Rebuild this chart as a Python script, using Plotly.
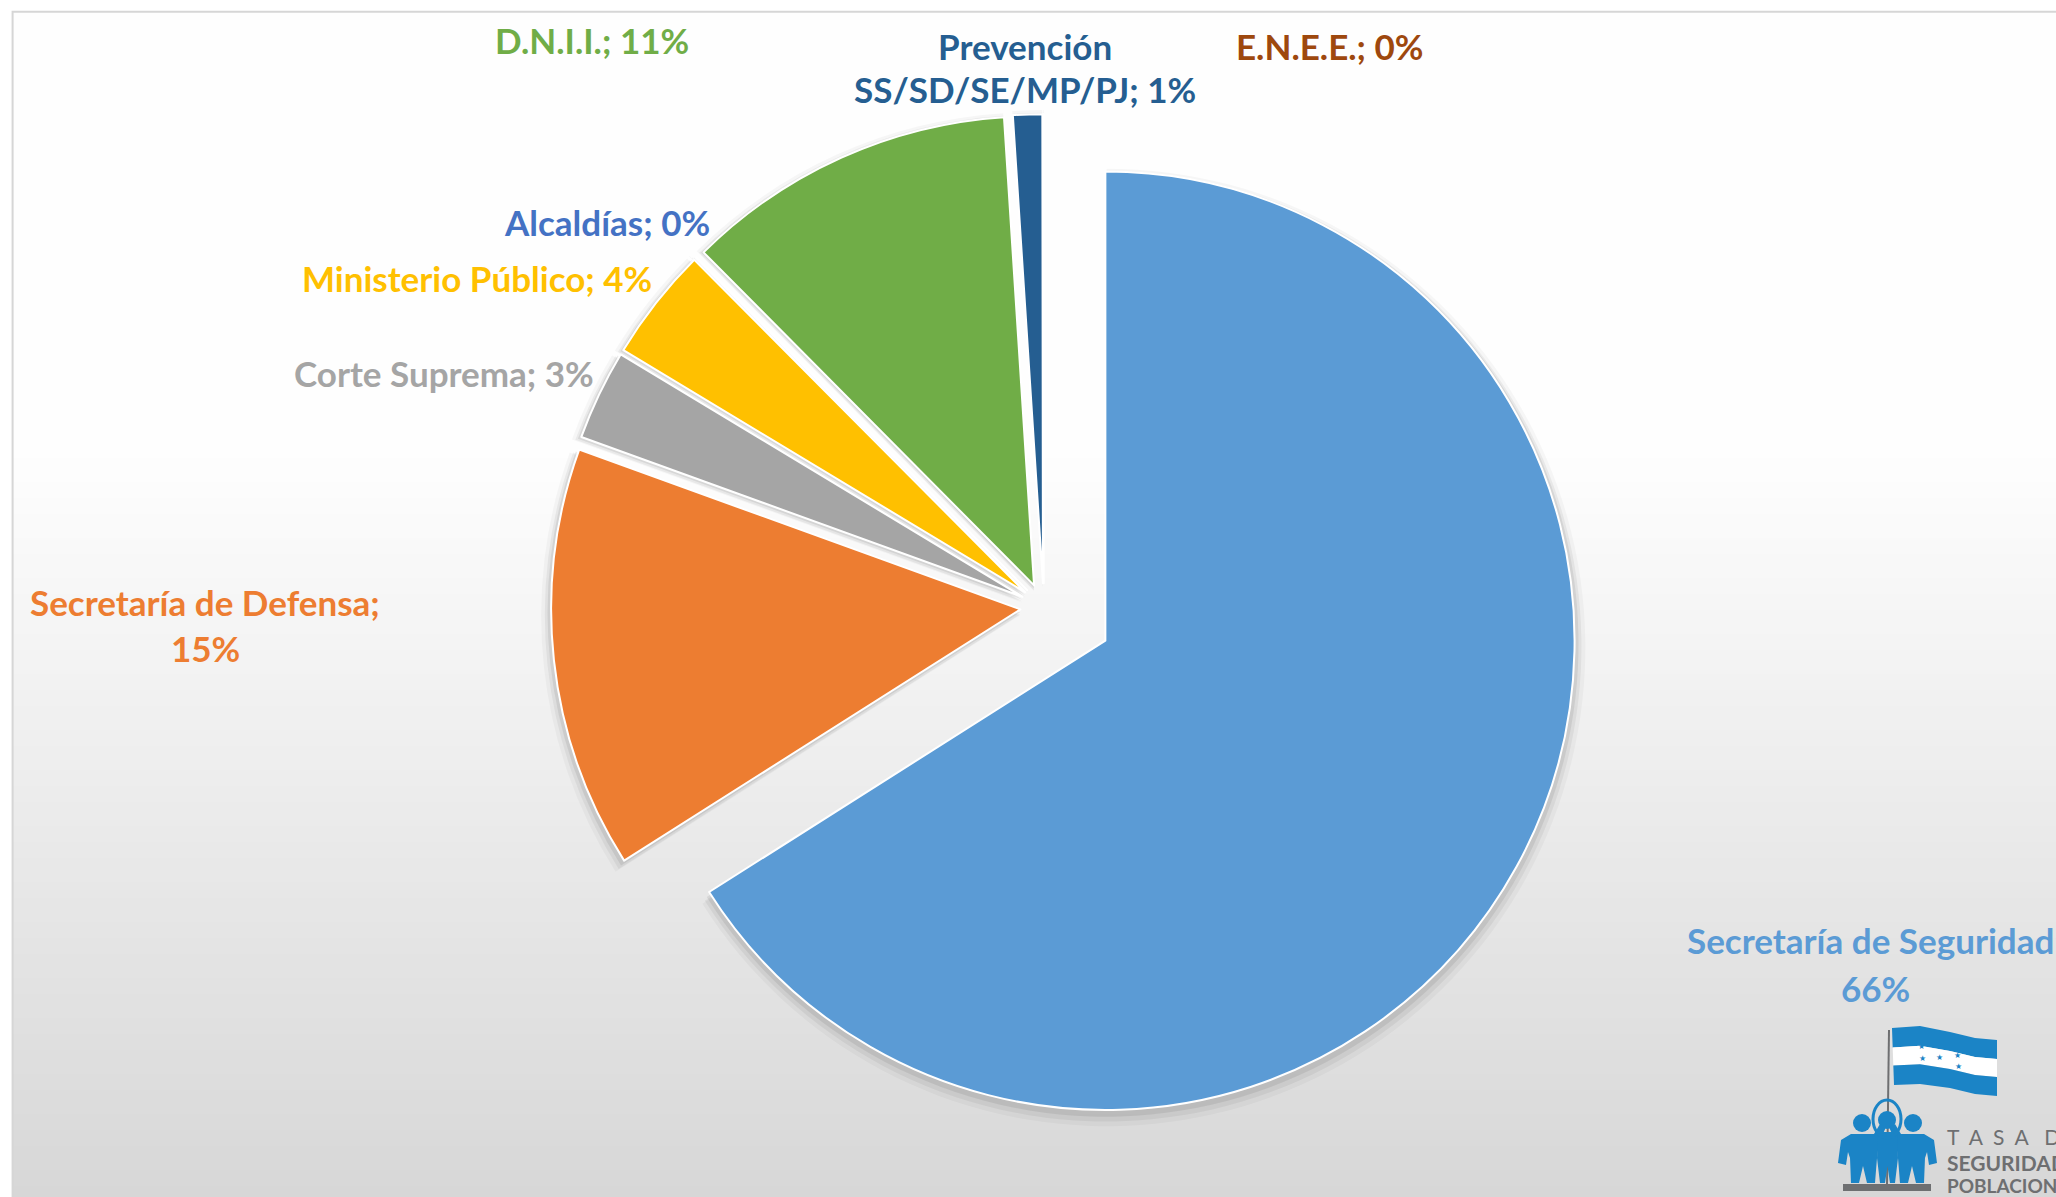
import plotly.graph_objects as go

W, H = 2056, 1197

# ---------------- data ----------------
labels = ["Secretaría de Seguridad", "Secretaría de Defensa", "Corte Suprema",
          "Ministerio Público", "Alcaldías", "D.N.I.I.",
          "Prevención SS/SD/SE/MP/PJ", "E.N.E.E."]
values = [65.9, 14.5, 3.1, 3.9, 0.02, 11.4, 1.0, 0.02]

# ---------------- style ----------------
colors = ["#5B9BD5", "#ED7D31", "#A5A5A5", "#FFC000",
          "#4472C4", "#70AD47", "#255E91", "#9E480E"]
pulls = [0.15, 0.05, 0.05, 0.05, 0.05, 0.05, 0.05, 0.05]
# label placement (pixel centre x, centre y of each line)
label_x = [1875, 205, 444, 477, 607, 592, 1025, 1330]
label_y = [[940, 988], [602, 648], [373], [278], [222], [40], [46, 89], [46]]
break_after = ["Secretaría de Seguridad;", "Secretaría de Defensa;", None, None,
               None, None, "Prevención", None]
FONT = "Lato"
FS = 35


def px(x):
    return x / W


def py(y):
    return 1 - y / H


def path(pts, close=True):
    s = "M " + " L ".join(f"{px(x):.5f},{py(y):.5f}" for x, y in pts)
    return s + (" Z" if close else "")


# pie geometry (domain in pixels)
CX, CY, HALF = 1043.7, 606.8, 539.6


def dom(extra=0.0, dy=0.0):
    return dict(x=[px(CX - HALF - extra), px(CX + HALF + extra)],
                y=[py(CY + dy + HALF + extra), py(CY + dy - HALF - extra)])


fig = go.Figure()

# soft shadow layers
for extra, dy, alpha in [(11, 6, 0.03), (7, 5, 0.05), (4, 3, 0.07)]:
    fig.add_trace(go.Pie(
        labels=labels, values=values, sort=False, direction="clockwise",
        rotation=0, pull=pulls, domain=dom(extra, dy),
        marker=dict(colors=[f"rgba(0,0,0,{alpha})"] * len(values),
                    line=dict(width=0)),
        textinfo="none", hoverinfo="skip", showlegend=False))

fig.add_trace(go.Pie(
    labels=labels, values=values, sort=False, direction="clockwise",
    rotation=0, pull=pulls, domain=dom(),
    marker=dict(colors=colors, line=dict(color="white", width=2)),
    textinfo="none", hovertemplate="%{label}: %{percent}<extra></extra>",
    showlegend=False))

# ---------------- labels ----------------
total = sum(values)
annotations = []
for lab, v, c, x, ys, br in zip(labels, values, colors, label_x, label_y, break_after):
    full = f"{lab}; {round(v / total * 100):.0f}%"
    if br:
        lines = [full[:len(br)], full[len(br) + 1:]]
    else:
        lines = [full]
    for line, y in zip(lines, ys):
        annotations.append(dict(
            x=px(x), y=py(y), xref="paper", yref="paper", text=line,
            showarrow=False, xanchor="center", yanchor="middle",
            font=dict(family=FONT, size=FS, color=c, weight="bold")))

# ---------------- background gradient + frame ----------------
shapes = []
FX, FY = 12.6, 11.7
shapes.append(dict(type="rect", xref="paper", yref="paper", layer="below",
                   x0=px(FX), x1=1.01, y0=-0.01, y1=py(FY),
                   fillcolor="#fefefe", line=dict(width=0)))
step = 8
y = 450
while y < H:
    t = (y + step / 2 - 450) / (H - 450)
    g = round(254 - 39 * t)
    shapes.append(dict(type="rect", xref="paper", yref="paper", layer="below",
                       x0=px(FX), x1=1.01, y0=py(min(y + step + 1, H + 2)), y1=py(y),
                       fillcolor=f"rgb({g},{g},{g})", line=dict(width=0)))
    y += step
shapes.append(dict(type="rect", xref="paper", yref="paper", layer="below",
                   x0=px(FX), x1=1.02, y0=-0.02, y1=py(FY),
                   fillcolor="rgba(0,0,0,0)", line=dict(color="#d6d6d6", width=2)))

# ---------------- logo ----------------
LB = "#1B84C6"
LG = "#6E6F71"
# flag
flag_top = [(1892, 1028), (1920, 1026), (1950, 1032), (1975, 1038), (1997, 1040)]
flag_bot = [(1997, 1096), (1975, 1094), (1950, 1088), (1920, 1084), (1894, 1085)]


def lerp(a, b, t):
    return (a[0] + (b[0] - a[0]) * t, a[1] + (b[1] - a[1]) * t)


def band(t0, t1):
    top = [lerp(p, q, t0) for p, q in zip(flag_top, reversed(flag_bot))]
    bot = [lerp(p, q, t1) for p, q in zip(flag_top, reversed(flag_bot))]
    return top + list(reversed(bot))


shapes.append(dict(type="path", xref="paper", yref="paper", path=path(band(0, 0.34)),
                   fillcolor=LB, line=dict(width=0)))
shapes.append(dict(type="path", xref="paper", yref="paper", path=path(band(0.34, 0.66)),
                   fillcolor="white", line=dict(width=0)))
shapes.append(dict(type="path", xref="paper", yref="paper", path=path(band(0.66, 1.0)),
                   fillcolor=LB, line=dict(width=0)))
for sx, sy in [(1927, 1053), (1928, 1065), (1945, 1064), (1963, 1062), (1964, 1073)]:
    annotations.append(dict(x=px(sx), y=py(sy), xref="paper", yref="paper", text="★",
                            showarrow=False, font=dict(size=8, color=LB,
                                                       family="DejaVu Sans")))
# pole
shapes.append(dict(type="line", xref="paper", yref="paper", x0=px(1889), y0=py(1030),
                   x1=px(1887), y1=py(1184), line=dict(color=LG, width=2)))
# base
shapes.append(dict(type="rect", xref="paper", yref="paper", x0=px(1843), x1=px(1931),
                   y0=py(1191), y1=py(1184), fillcolor=LG, line=dict(width=0)))
# people
for hx, hy, r in [(1862, 1123, 9), (1887, 1120, 9), (1913, 1123, 9)]:
    shapes.append(dict(type="circle", xref="paper", yref="paper",
                       x0=px(hx - r), x1=px(hx + r), y0=py(hy + r), y1=py(hy - r),
                       fillcolor=LB, line=dict(width=0)))
left_body = [(1851, 1134), (1874, 1134), (1880, 1124), (1886, 1127), (1879, 1143),
             (1877, 1158), (1875, 1183), (1867, 1183), (1863, 1166), (1859, 1183),
             (1851, 1183), (1850, 1158), (1848, 1152), (1846, 1165), (1838, 1163),
             (1841, 1140)]
right_body = [(3775 - x, y) for x, y in left_body]
mid_body = [(1878, 1132), (1897, 1132), (1898, 1158), (1895, 1183), (1890, 1183),
            (1887.5, 1166), (1885, 1183), (1880, 1183), (1877, 1158)]
for b in (left_body, right_body, mid_body):
    shapes.append(dict(type="path", xref="paper", yref="paper", path=path(b),
                       fillcolor=LB, line=dict(width=0)))
shapes.append(dict(type="circle", xref="paper", yref="paper",
                   x0=px(1873), x1=px(1901), y0=py(1138), y1=py(1100),
                   fillcolor="rgba(0,0,0,0)", line=dict(color=LB, width=3)))
# logo text
for txt, ty, fs, wt in [("T  A  S  A   D  E", 1136, 21, "normal"),
                        ("SEGURIDAD", 1162, 21, "bold"),
                        ("POBLACIONAL", 1185, 19, "bold")]:
    annotations.append(dict(x=px(1945), y=py(ty), xref="paper", yref="paper", text=txt,
                            showarrow=False, xanchor="left", yanchor="middle",
                            font=dict(family=FONT, size=fs, color=LG, weight=wt)))

fig.update_layout(
    width=W, height=H, margin=dict(l=0, r=0, t=0, b=0),
    paper_bgcolor="white", plot_bgcolor="white",
    showlegend=False, shapes=shapes, annotations=annotations)

fig.write_html("out.html", config={"displayModeBar": False},
               post_script="document.body.style.margin='0';"
                           "document.body.style.overflow='hidden';")
